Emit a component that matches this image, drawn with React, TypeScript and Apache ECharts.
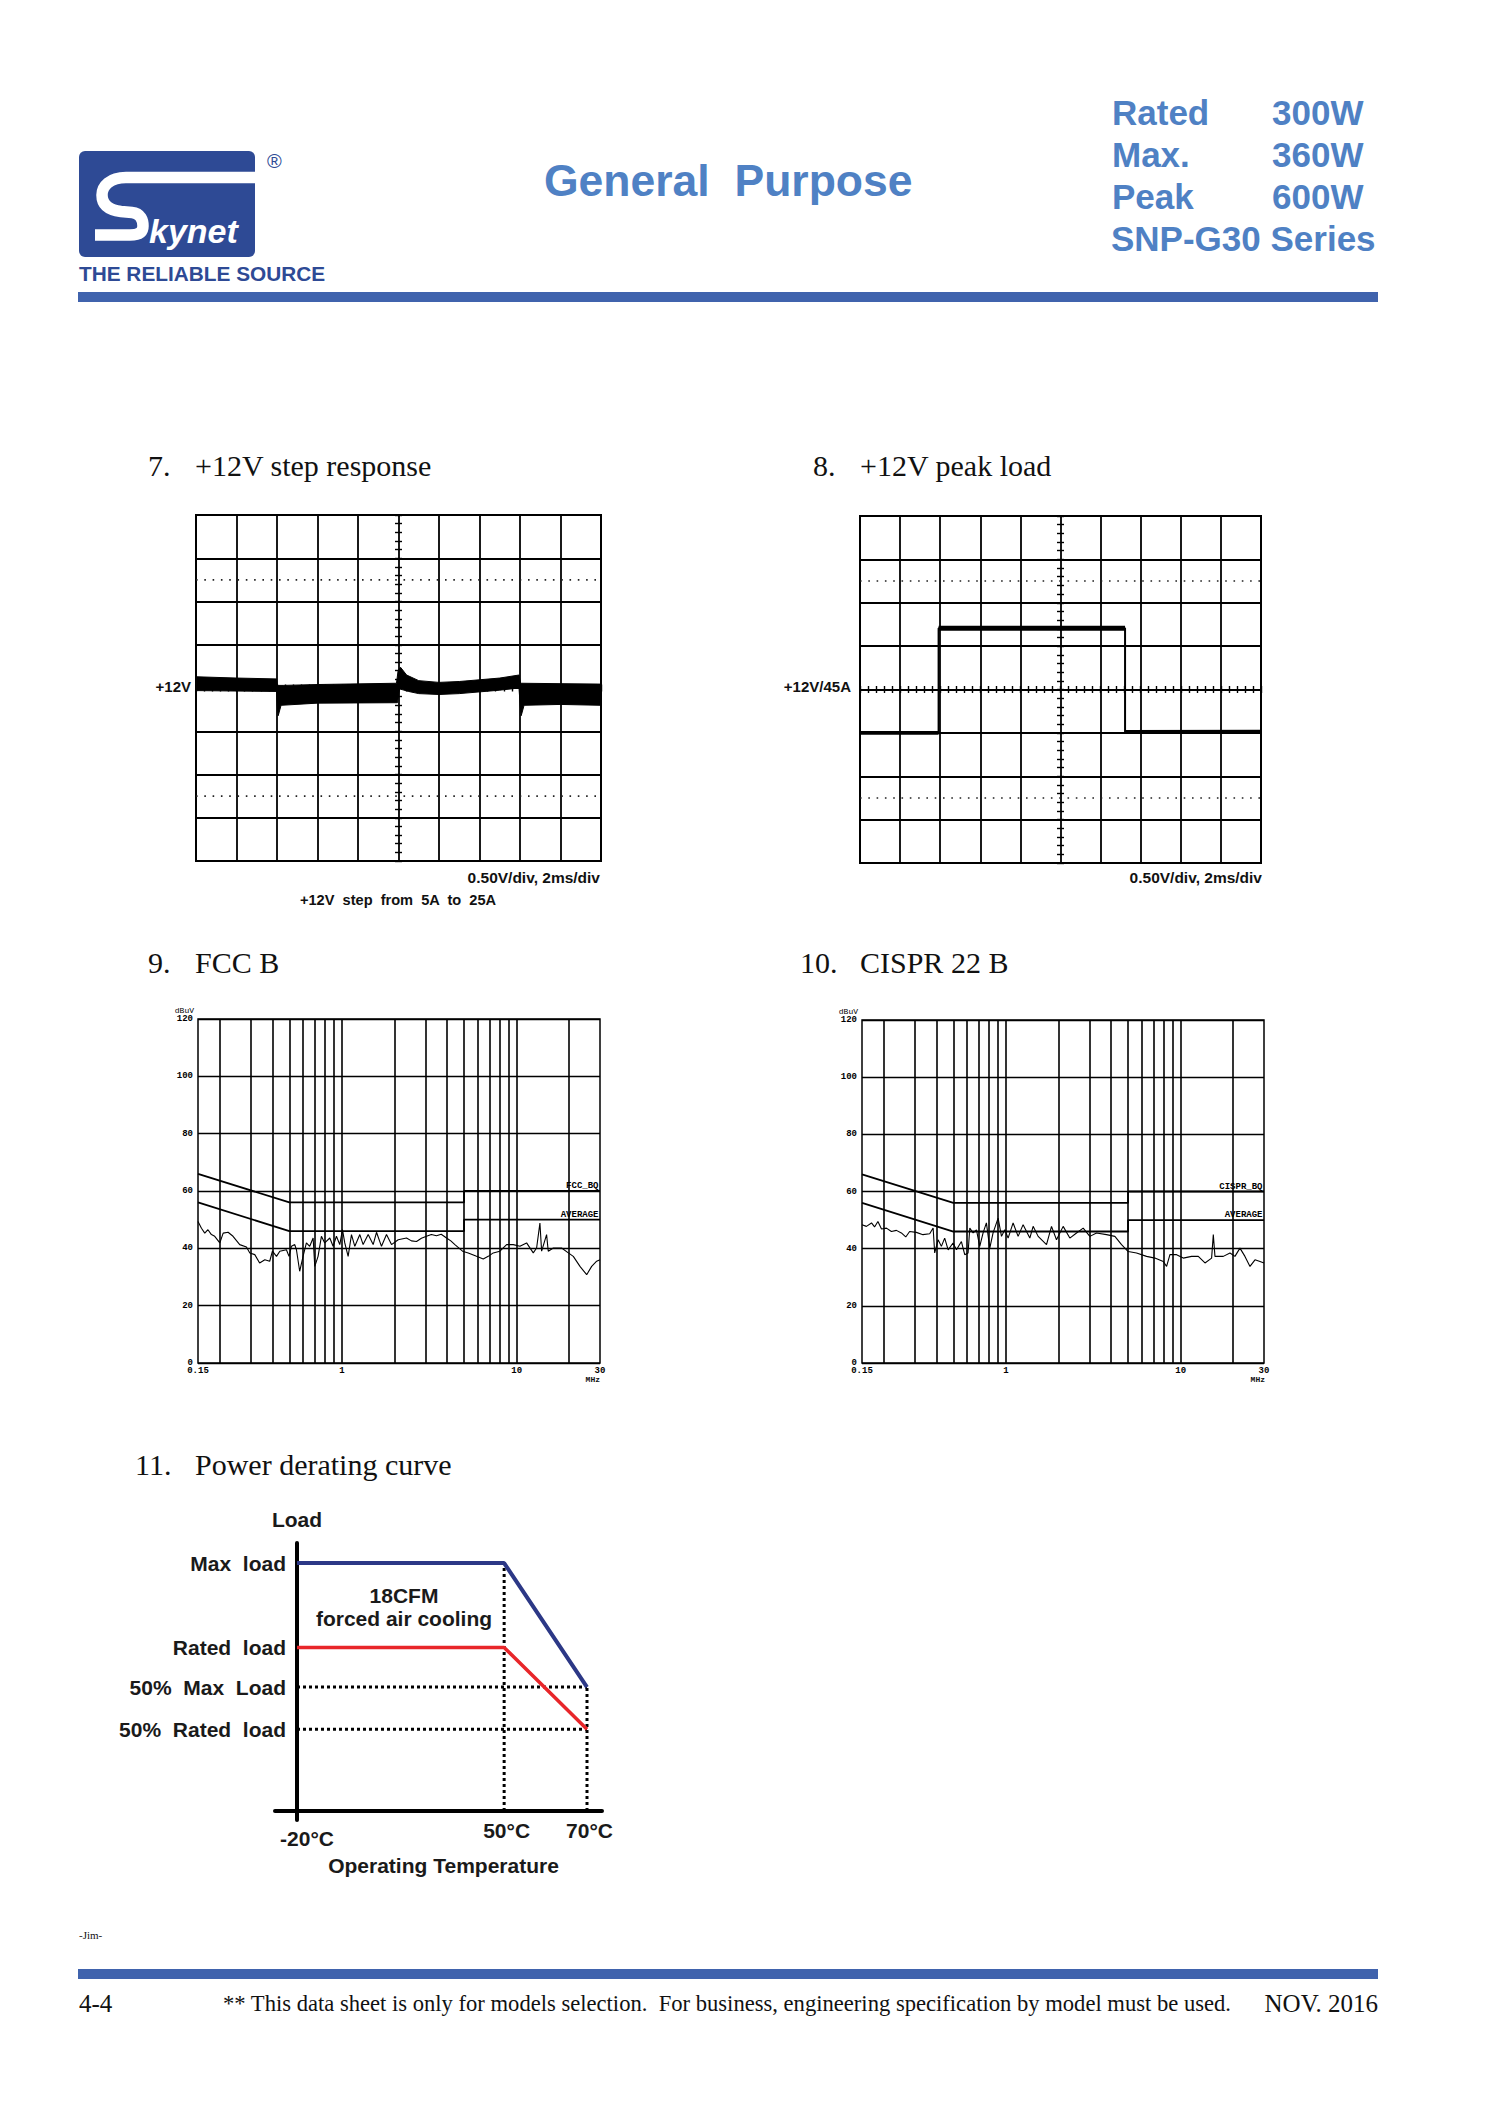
import React, { useEffect, useRef } from 'react';
import * as echarts from 'echarts';

const SANS = '"Liberation Sans", Arial, Helvetica, sans-serif';
const SERIF = '"Liberation Serif", "Times New Roman", serif';
const MONO = '"Liberation Mono", "DejaVu Sans Mono", monospace';
const NAVY = '#2e4a95';
const HEAD_BLUE = '#4f81c4';
const BAR_BLUE = '#4063ad';

// ---------- header texts ----------
const pageTitle = 'General  Purpose';
const ratingNames = ['Rated', 'Max.', 'Peak'];
const ratingWatts = ['300W', '360W', '600W'];
const seriesTitle = 'SNP-G30 Series';
const sectionNums = ['7.', '8.', '9.', '10.', '11.'];
const sectionNames = ['+12V step response', '+12V peak load', 'FCC B', 'CISPR 22 B', 'Power derating curve'];

// ---------- oscilloscope data (time ms, volts; 2 ms/div, 0.5 V/div) ----------
const scopeTimeRange = [0, 20];
const scopeVoltRange = [10, 14];
const scopeDottedLevels = [13.25, 10.75];
// +12V step response: upper / lower envelope of the noisy trace band
const stepUpper = [
  [0, 12.13], [2, 12.115], [3.98, 12.105], [4.02, 12.03], [4.3, 12.03], [6, 12.04], [9.9, 12.055],
  [9.98, 12.2], [10.1, 12.24], [10.4, 12.15], [11, 12.085], [12, 12.065], [13, 12.075], [15, 12.115],
  [15.95, 12.15], [16.03, 12.055], [18, 12.05], [20, 12.045],
];
const stepLower = [
  [0, 11.97], [3.98, 11.96], [4.01, 11.8], [4.06, 11.68], [4.2, 11.8], [6, 11.825], [9.95, 11.83],
  [10.05, 11.99], [10.5, 11.96], [11, 11.935], [12, 11.925], [13, 11.935], [15, 11.975], [15.95, 12.0],
  [16.01, 11.8], [16.06, 11.68], [16.2, 11.8], [18, 11.81], [20, 11.8],
];
// +12V peak load trace
const peakSteps = [[0, 11.5], [3.92, 11.5], [3.92, 12.705], [13.22, 12.705], [13.22, 11.51], [20, 11.515]];

// ---------- conducted EMI data (MHz, dBuV) ----------
const emiFreqGrid = [0.2, 0.3, 0.4, 0.5, 0.6, 0.7, 0.8, 0.9, 1, 2, 3, 4, 5, 6, 7, 8, 9, 10, 20];
const emiFreqLabels = [0.15, 1, 10, 30];
const emiFreqText = ['0.15', '1', '10', '30'];
const qpLimit = [[0.15, 66], [0.5, 56], [5, 56], [5, 60], [30, 60]];
const avgLimit = [[0.15, 56], [0.5, 46], [5, 46], [5, 50], [30, 50]];
const fccTrace = [
  [0.15, 49.4], [0.157, 47], [0.164, 45.3], [0.171, 46.5], [0.179, 44.8], [0.187, 44.2], [0.2, 41.9],
  [0.209, 45.3], [0.223, 45.6], [0.238, 44.2], [0.26, 41.3], [0.284, 40.5], [0.297, 38.4], [0.317, 37.8],
  [0.338, 34.9], [0.362, 36], [0.386, 35.5], [0.4, 39], [0.422, 37.2], [0.441, 39], [0.481, 39.5],
  [0.498, 37.2], [0.514, 40.7], [0.537, 41.3], [0.549, 39.5], [0.573, 32], [0.599, 37.2], [0.626, 41.9],
  [0.654, 40.7], [0.684, 43.6], [0.699, 33.7], [0.73, 37.2], [0.763, 44.2], [0.797, 41.9], [0.852, 43.6],
  [0.89, 40.7], [0.93, 44.2], [0.972, 41.3], [1.007, 46.5], [1.038, 41.9], [1.085, 37.2], [1.134, 44.8],
  [1.185, 40.7], [1.266, 44.8], [1.322, 41.3], [1.413, 44.8], [1.509, 41.3], [1.577, 45.6], [1.684, 40.7],
  [1.799, 44.8], [1.922, 41.3], [2.099, 43], [2.342, 43.6], [2.5, 42.6], [2.672, 42.4], [2.85, 43.5],
  [3.048, 44.2], [3.25, 44.8], [3.478, 44.4], [3.7, 44.9], [3.969, 43.6], [4.2, 42.6], [4.431, 41.3],
  [4.902, 39], [5.283, 38.4], [5.895, 37.2], [6.439, 36.3], [6.877, 37.2], [7.345, 38.4], [8.022, 39],
  [8.76, 41.3], [9.564, 41.3], [10.44, 40.7], [11.4, 41.9], [12.45, 38.4], [13.01, 40.1], [13.59, 48.8],
  [13.9, 39], [14.84, 44.8], [15.17, 39], [16.21, 40.1], [18.09, 40.1], [19.76, 38.4], [21.1, 37.2],
  [23.04, 33.7], [25.17, 30.8], [26.88, 33.7], [28.71, 35.5], [30, 36],
];
const cisprTrace = [
  [0.15, 48.4], [0.159, 47.8], [0.17, 49], [0.177, 47.6], [0.185, 49.5], [0.194, 46.9], [0.207, 47.2],
  [0.221, 46], [0.236, 46.4], [0.252, 45.5], [0.267, 44.1], [0.281, 46], [0.307, 45.7], [0.335, 44.9],
  [0.366, 45.2], [0.383, 47.2], [0.391, 38.5], [0.409, 43.1], [0.427, 40.8], [0.446, 43.7], [0.467, 39.6],
  [0.498, 42], [0.521, 39.6], [0.556, 42.5], [0.581, 37.9], [0.607, 38.5], [0.621, 47.2], [0.649, 45.5],
  [0.678, 46.6], [0.708, 40.8], [0.74, 45.5], [0.773, 49], [0.808, 40.2], [0.844, 45.5], [0.902, 50.7],
  [0.943, 44.3], [0.985, 46.6], [1.029, 43.7], [1.099, 49], [1.174, 44.3], [1.254, 48.4], [1.37, 43.7],
  [1.431, 47.8], [1.529, 44.3], [1.707, 41.4], [1.823, 47.8], [1.947, 43.1], [2.126, 47.8], [2.321, 43.7],
  [2.535, 45.5], [2.768, 47.2], [3.022, 44.3], [3.3, 45.5], [3.764, 44.9], [4.203, 44.3], [4.589, 41.4],
  [5.011, 39], [5.592, 38.5], [6.382, 37.3], [7.124, 36.7], [7.953, 35.5], [8.31, 33.8], [8.684, 37.9],
  [9.48, 37.9], [10.35, 36.7], [11.55, 37.3], [12.62, 37.3], [13.78, 35], [15.04, 36.7], [15.38, 44.9],
  [15.72, 37.3], [17.54, 37.3], [19.16, 38.5], [20.46, 37.3], [21.85, 40.2], [23.34, 37.3], [24.94, 33.8],
  [26.64, 36.1], [28.46, 35.5], [30, 35],
];

// ---------- power derating (schematic, not to scale) ----------
const tempLabels = ['-20°C', '50°C', '70°C'];
const tempSlots = [0, 5, 7];
const loadNames = ['Max  load', 'Rated  load', '50%  Max  Load', '50%  Rated  load'];
const loadLevels = [100, 66, 50, 33];
const maxLoadCurve = [[0, 100], [5, 100], [7, 50]];
const ratedLoadCurve = [[0, 66], [5, 66], [7, 33]];

// ---------- S swoosh of the logo ----------
const S_PATH =
  'M 256 177.5 L 126 177.5 C 110 177.5 102 186 102 195 C 102 205 109 210 121 211.5 L 132 212.5 ' +
  'C 141 213.5 143 220 143 226 C 143 232 139 235 130 235 L 95 235';
echarts.graphic.registerShape('skynetS', echarts.graphic.extendPath(S_PATH, {}));

const txt = (text: string, x: number, y: number, o: any = {}) => ({
  type: 'text',
  x,
  y,
  silent: true,
  style: {
    text,
    fill: o.fill || '#111',
    fontSize: o.size || 14,
    fontFamily: o.family || SANS,
    fontWeight: o.weight || 'normal',
    fontStyle: o.style || 'normal',
    align: o.align || 'left',
    verticalAlign: 'middle',
  },
});

function scopeAxes(g: number, W: number, H: number) {
  const hidden = { axisLabel: { show: false }, axisLine: { show: false, onZero: false } };
  const grid = { show: true, lineStyle: { color: '#000', width: 1.8 } };
  const tick = (inside: boolean) => ({ show: true, inside, length: 3.5, lineStyle: { color: '#000', width: 1.4 } });
  const x = [
    { gridIndex: g, type: 'value', min: scopeTimeRange[0], max: scopeTimeRange[1], interval: 2, ...hidden, axisTick: { show: false }, splitLine: grid },
    { gridIndex: g, type: 'value', min: scopeTimeRange[0], max: scopeTimeRange[1], interval: 0.4, position: 'bottom', offset: -H / 2, ...hidden, axisTick: tick(false), splitLine: { show: false } },
    { gridIndex: g, type: 'value', min: scopeTimeRange[0], max: scopeTimeRange[1], interval: 0.4, position: 'bottom', offset: -H / 2, ...hidden, axisTick: tick(true), splitLine: { show: false } },
  ];
  const y = [
    { gridIndex: g, type: 'value', min: scopeVoltRange[0], max: scopeVoltRange[1], interval: 0.5, ...hidden, axisTick: { show: false }, splitLine: grid },
    { gridIndex: g, type: 'value', min: scopeVoltRange[0], max: scopeVoltRange[1], interval: 0.1, position: 'left', offset: -W / 2, ...hidden, axisTick: tick(false), splitLine: { show: false } },
    { gridIndex: g, type: 'value', min: scopeVoltRange[0], max: scopeVoltRange[1], interval: 0.1, position: 'left', offset: -W / 2, ...hidden, axisTick: tick(true), splitLine: { show: false } },
  ];
  return { x, y };
}

const emiLabelStyle = { fontFamily: MONO, fontSize: 9, fontWeight: 'bold', color: '#000' };

function emiXAxis(g: number) {
  return {
    gridIndex: g,
    type: 'log',
    logBase: 10,
    min: emiFreqLabels[0],
    max: emiFreqLabels[emiFreqLabels.length - 1],
    axisLine: { show: false, onZero: false },
    axisTick: { show: false },
    splitLine: { show: false },
    axisLabel: {
      show: true,
      customValues: emiFreqLabels,
      margin: 3,
      ...emiLabelStyle,
      formatter: (v: number, i: number) => {
        const k = i === 0 ? 'a' : i === emiFreqLabels.length - 1 ? 'c' : 'b';
        return `{${k}|${emiFreqText[i] ?? String(v)}}`;
      },
      rich: {
        a: { ...emiLabelStyle, padding: [0, 0, 0, 12] },
        b: { ...emiLabelStyle },
        c: { ...emiLabelStyle, padding: [0, 10, 0, 0] },
      },
    },
  };
}

function emiYAxis(g: number) {
  return {
    gridIndex: g,
    type: 'value',
    min: 0,
    max: 120,
    interval: 20,
    axisLine: { show: false },
    axisTick: { show: false },
    splitLine: { show: true, lineStyle: { color: '#000', width: 1.4 } },
    axisLabel: { margin: 5, ...emiLabelStyle },
    name: 'dBuV',
    nameLocation: 'end',
    nameGap: 5,
    nameTextStyle: { ...emiLabelStyle, fontSize: 8, fontWeight: 'normal', align: 'right', padding: [0, 4, 0, 0] },
  };
}

function limitLabel(name: string, point: number[]) {
  return {
    silent: true,
    symbol: 'rect',
    symbolSize: 1,
    itemStyle: { color: 'rgba(0,0,0,0)' },
    label: { show: true, position: 'left', distance: 1, offset: [0, -5], formatter: name, ...emiLabelStyle },
    data: [{ coord: point }],
  };
}

function emiSeries(idx: number, trace: number[][], qpName: string) {
  return [
    {
      type: 'line', xAxisIndex: idx, yAxisIndex: idx, data: trace, symbol: 'none', showSymbol: false, silent: true, z: 4,
      lineStyle: { color: '#000', width: 1.1 },
      markLine: {
        silent: true, symbol: ['none', 'none'], label: { show: false },
        lineStyle: { color: '#000', width: 1.6, type: 'solid' },
        data: emiFreqGrid.map((f) => ({ xAxis: f })),
      },
    },
    {
      type: 'line', xAxisIndex: idx, yAxisIndex: idx, data: qpLimit, symbol: 'none', showSymbol: false, silent: true, z: 3,
      lineStyle: { color: '#000', width: 1.8 },
      markPoint: limitLabel(qpName, qpLimit[qpLimit.length - 1]),
    },
    {
      type: 'line', xAxisIndex: idx, yAxisIndex: idx, data: avgLimit, symbol: 'none', showSymbol: false, silent: true, z: 3,
      lineStyle: { color: '#000', width: 1.8 },
      markPoint: limitLabel('AVERAGE', avgLimit[avgLimit.length - 1]),
    },
  ];
}

function dottedScopeSeries(idx: number) {
  return scopeDottedLevels.map((lv) => ({
    type: 'line', xAxisIndex: idx, yAxisIndex: idx, symbol: 'none', silent: true, z: 2,
    data: [[scopeTimeRange[0], lv], [scopeTimeRange[1], lv]],
    lineStyle: { color: '#222', width: 1.6, type: [1.6, 6.7] },
  }));
}

function buildOption() {
  const s7 = scopeAxes(0, 405, 346);
  const s8 = scopeAxes(1, 401, 347);
  const dlab = { fontFamily: SANS, fontSize: 21, fontWeight: 'bold', color: '#1a1a1a' };

  const derX = {
    gridIndex: 4, type: 'value', min: -0.531, max: 7.362,
    axisLine: { show: true, onZero: true, lineStyle: { color: '#000', width: 4 } },
    axisTick: { show: false }, splitLine: { show: false },
    axisLabel: {
      customValues: tempSlots, margin: 0,
      formatter: (v: number) => {
        const i = tempSlots.indexOf(Math.round(v));
        return i === 0 ? `{a|${tempLabels[i]}}` : `{b|${tempLabels[i]}}`;
      },
      rich: { a: { ...dlab, padding: [8, 0, 0, 20] }, b: { ...dlab, padding: [0, 0, 0, 5] } },
    },
    name: 'Operating Temperature', nameLocation: 'middle', nameGap: 35,
    nameTextStyle: { ...dlab, padding: [0, 0, 0, 10] },
  };
  const derY = {
    gridIndex: 4, type: 'value', min: -3.6, max: 108.1,
    axisLine: { show: true, onZero: true, lineStyle: { color: '#000', width: 4 } },
    axisTick: { show: false }, splitLine: { show: false },
    axisLabel: {
      customValues: loadLevels, margin: -11, ...dlab,
      formatter: (v: number) => loadNames[loadLevels.indexOf(Math.round(v))] || '',
    },
    name: 'Load', nameLocation: 'end', nameGap: 13, nameTextStyle: { ...dlab },
  };

  const dot = { color: '#000', width: 3, type: [3, 3] };
  const derSeries = [
    { data: [[tempSlots[0], loadLevels[2]], [tempSlots[2], loadLevels[2]]] },
    { data: [[tempSlots[0], loadLevels[3]], [tempSlots[2], loadLevels[3]]] },
    { data: [[tempSlots[1], 0], [tempSlots[1], loadLevels[0]]] },
    { data: [[tempSlots[2], 0], [tempSlots[2], loadLevels[2]]] },
  ].map((d) => ({ type: 'line', xAxisIndex: 8, yAxisIndex: 8, symbol: 'none', silent: true, z: 2, lineStyle: dot, ...d }));

  const peakThick = [
    [peakSteps[0], peakSteps[1]],
    [peakSteps[2], peakSteps[3]],
    [peakSteps[4], peakSteps[5]],
  ].map((seg, i) => ({
    type: 'line', xAxisIndex: 3, yAxisIndex: 3, symbol: 'none', silent: true, z: 5, data: seg,
    lineStyle: { color: '#000', width: i === 1 ? 5 : 3.8, cap: 'butt' },
  }));

  const graphics: any[] = [];
  // logo
  graphics.push({ type: 'rect', silent: true, shape: { x: 79, y: 151, width: 176, height: 106, r: 6 }, style: { fill: NAVY } });
  graphics.push({ type: 'skynetS', silent: true, x: 0, y: 0, style: { fill: 'none', stroke: '#fff', lineWidth: 11.5 } });
  graphics.push(txt('kynet', 149, 231, { size: 34, weight: 'bold', style: 'italic', fill: '#fff' }));
  graphics.push(txt('®', 267, 161, { size: 20, fill: NAVY }));
  graphics.push(txt('THE RELIABLE SOURCE', 79, 273, { size: 20.8, weight: 'bold', fill: NAVY }));
  // header
  graphics.push(txt(pageTitle, 544, 180, { size: 44.5, weight: 'bold', fill: HEAD_BLUE }));
  const rowY = [112, 154, 196];
  ratingNames.forEach((n, i) => {
    graphics.push(txt(n, 1112, rowY[i], { size: 35, weight: 'bold', fill: HEAD_BLUE }));
    graphics.push(txt(ratingWatts[i], 1272, rowY[i], { size: 35, weight: 'bold', fill: HEAD_BLUE }));
  });
  graphics.push(txt(seriesTitle, 1111, 238, { size: 35, weight: 'bold', fill: HEAD_BLUE }));
  graphics.push({ type: 'rect', silent: true, shape: { x: 78, y: 292, width: 1300, height: 10 }, style: { fill: BAR_BLUE } });
  // section titles
  const titlePos = [[148, 195, 465], [813, 860, 465], [148, 195, 962], [800, 860, 962], [135, 195, 1464]];
  sectionNums.forEach((n, i) => {
    const [xn, xt, y] = titlePos[i];
    graphics.push(txt(n, xn, y, { size: 30, family: SERIF }));
    graphics.push(txt(sectionNames[i], xt, y, { size: 30, family: SERIF }));
  });
  // scope annotations
  graphics.push(txt('+12V', 191, 686, { size: 15, weight: 'bold', align: 'right' }));
  graphics.push(txt('0.50V/div, 2ms/div', 600, 877, { size: 15.5, weight: 'bold', align: 'right' }));
  graphics.push(txt('+12V  step  from  5A  to  25A', 398, 900, { size: 14.6, weight: 'bold', align: 'center' }));
  graphics.push(txt('+12V/45A', 851, 686, { size: 15, weight: 'bold', align: 'right' }));
  graphics.push(txt('0.50V/div, 2ms/div', 1262, 877, { size: 15.5, weight: 'bold', align: 'right' }));
  // EMI unit labels
  graphics.push(txt('MHz', 600, 1379, { size: 8, family: MONO, weight: 'bold', align: 'right' }));
  graphics.push(txt('MHz', 1265, 1379, { size: 8, family: MONO, weight: 'bold', align: 'right' }));
  // derating annotation
  graphics.push(txt('18CFM', 404, 1595, { size: 21, weight: 'bold', align: 'center', fill: '#1a1a1a' }));
  graphics.push(txt('forced air cooling', 404, 1618, { size: 21, weight: 'bold', align: 'center', fill: '#1a1a1a' }));
  // footer
  graphics.push(txt('-Jim-', 79, 1935, { size: 11, family: SERIF }));
  graphics.push({ type: 'rect', silent: true, shape: { x: 78, y: 1969, width: 1300, height: 10 }, style: { fill: BAR_BLUE } });
  graphics.push(txt('4-4', 79, 2003, { size: 25, family: SERIF }));
  graphics.push(
    txt('** This data sheet is only for models selection.  For business, engineering specification by model must be used.', 223, 2003, {
      size: 22.6,
      family: SERIF,
    })
  );
  graphics.push(txt('NOV. 2016', 1378, 2003, { size: 25, family: SERIF, align: 'right' }));

  const scopeGrid = { show: true, borderColor: '#000', borderWidth: 2, backgroundColor: '#fff', outerBoundsMode: 'none', containLabel: false };
  const emiGrid = { show: true, borderColor: '#000', borderWidth: 1.5, backgroundColor: '#fff', outerBoundsMode: 'none', containLabel: false };

  return {
    animation: false,
    backgroundColor: '#fff',
    tooltip: { show: false },
    grid: [
      { left: 196, top: 515, width: 405, height: 346, ...scopeGrid },
      { left: 860, top: 516, width: 401, height: 347, ...scopeGrid },
      { left: 198, top: 1019, width: 402, height: 344, ...emiGrid },
      { left: 862, top: 1020, width: 402, height: 343, ...emiGrid },
      { left: 275, top: 1543, width: 327, height: 277, show: false, outerBoundsMode: 'none', containLabel: false },
    ],
    xAxis: [...s7.x, ...s8.x, emiXAxis(2), emiXAxis(3), derX],
    yAxis: [...s7.y, ...s8.y, emiYAxis(2), emiYAxis(3), derY],
    series: [
      // 7. step response band
      {
        type: 'custom', xAxisIndex: 0, yAxisIndex: 0, silent: true, z: 5,
        data: [[scopeTimeRange[0], 12]],
        renderItem: (_p: any, api: any) => {
          const pts = stepUpper.map((p) => api.coord(p)).concat(stepLower.slice().reverse().map((p) => api.coord(p)));
          return { type: 'polygon', shape: { points: pts }, style: { fill: '#000', stroke: '#000', lineWidth: 1 } };
        },
      },
      ...dottedScopeSeries(0),
      // 8. peak load trace
      {
        type: 'line', xAxisIndex: 3, yAxisIndex: 3, data: peakSteps, symbol: 'none', silent: true, z: 5,
        lineStyle: { color: '#000', width: 2 },
      },
      ...peakThick,
      ...dottedScopeSeries(3),
      // 9 / 10. EMI
      ...emiSeries(6, fccTrace, 'FCC_BQ'),
      ...emiSeries(7, cisprTrace, 'CISPR_BQ'),
      // 11. derating
      ...derSeries,
      {
        type: 'line', xAxisIndex: 8, yAxisIndex: 8, data: maxLoadCurve, symbol: 'none', silent: true, z: 4,
        lineStyle: { color: '#2c3886', width: 4 },
      },
      {
        type: 'line', xAxisIndex: 8, yAxisIndex: 8, data: ratedLoadCurve, symbol: 'none', silent: true, z: 4,
        lineStyle: { color: '#e8262a', width: 3.5 },
      },
    ],
    graphic: { elements: graphics },
  };
}

export default function App() {
  const ref = useRef<HTMLDivElement>(null);
  useEffect(() => {
    if (!ref.current) return;
    const chart = echarts.init(ref.current, null, { renderer: 'svg' });
    chart.setOption(buildOption() as any);
    return () => chart.dispose();
  }, []);
  return <div ref={ref} style={{ position: 'absolute', left: 0, top: 0, width: 1500, height: 2121, background: '#fff' }} />;
}
